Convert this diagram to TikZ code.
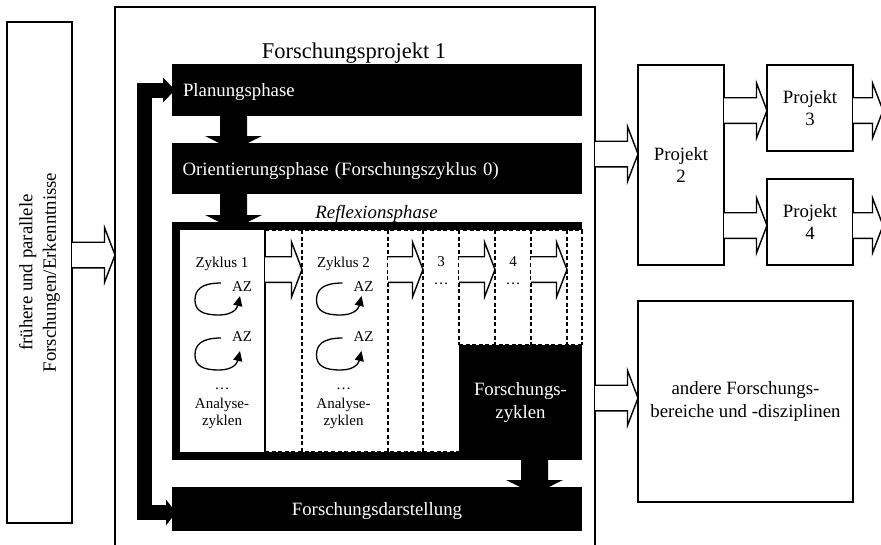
\documentclass[tikz,border=0pt]{standalone}
\usepackage{fontspec}
\setmainfont{Liberation Serif}
\usetikzlibrary{calc,arrows.meta}
\newcommand\bigf{\fontsize{18.8}{22}\selectfont}
\newcommand\leftf{\fontsize{18.8}{23.5}\selectfont}
\newcommand\smallf{\fontsize{15}{17.5}\selectfont}
\newcommand\titlef{\fontsize{22.5}{26}\selectfont}
\tikzset{
  outline/.style={draw, line width=1.5pt, fill=white, inner sep=0pt, outer sep=0pt, align=center, font=\bigf},
  bar/.style={fill=black, text=white, inner sep=0pt, outer sep=0pt, font=\bigf},
  hollow/.style={draw, fill=white, line width=1.4pt, line join=miter},
  dashedline/.style={line width=1.2pt, dash pattern=on 4pt off 2.6pt},
  lbl/.style={font=\smallf, inner sep=0pt, anchor=base, align=center},
  cyc/.style={line width=1.3pt, -{Triangle[length=10pt,width=9pt]}},
}
% hollow block arrow pointing right: #1 start, #2 tip
\newcommand\harr[2]{\draw[hollow] let \p1=#1, \p2=#2 in
  (\x1,\y2+12.8pt) -- (\x2-10.5pt,\y2+12.8pt) -- (\x2-10.5pt,\y2+27.5pt) -- (\x2,\y2)
  -- (\x2-10.5pt,\y2-27.5pt) -- (\x2-10.5pt,\y2-12.8pt) -- (\x1,\y2-12.8pt);}
% solid black arrow pointing down: #1 start, #2 end
\newcommand\varr[2]{\fill let \p1=#1, \p2=#2 in
  (\x1-13.5pt,\y1) -- (\x1-13.5pt,\y2+7pt) -- (\x1-28.5pt,\y2+7pt) -- (\x1,\y2-7pt)
  -- (\x1+28.5pt,\y2+7pt) -- (\x1+13.5pt,\y2+7pt) -- (\x1+13.5pt,\y1) -- cycle;}
% analysis cycle icon
\newcommand\azicon[4]{% #1 x shift, #2 y shift, #3 label y offset, #4 name
  \begin{scope}[shift={(#1,#2)}]
    \draw[cyc] (221,283) .. controls (201,283) and (195,290) .. (195,300)
      .. controls (195,311) and (203,315) .. (219,315)
      .. controls (232,315) and (237,309) .. (240,296);
    \node[lbl] (#4) at (242,291.7+#3) {AZ};
  \end{scope}}
\begin{document}
\begin{tikzpicture}[x=1pt,y=-1pt]
\useasboundingbox (0,0) rectangle (881,544);

% left box
\node[outline, rotate=90, minimum width=501pt, minimum height=65pt, font=\leftf] (lbox) at (39.5,272.5)
  {frühere und parallele\\Forschungen/Erkenntnisse};

% main project box
\node[outline, anchor=north west, minimum width=480pt, minimum height=545pt] (main) at (115,7) {};
\node[font=\titlef, anchor=base, inner sep=0pt] (title) at (354,58) {Forschungsprojekt 1};

% phases
\node[bar, anchor=north west, minimum width=410pt, minimum height=52pt, text width=388pt,
  inner xsep=11pt, align=left, text height=13pt, text depth=0pt] (plan) at (172,64) {Planungsphase};
\node[bar, anchor=north west, minimum width=410pt, minimum height=51pt, text width=389pt,
  inner xsep=10.5pt, align=left, text height=13pt, text depth=0pt] (orient) at (172,143)
  {Orientierungsphase (Forschungszyklus 0)};
\node[font=\bigf\itshape, anchor=base, inner sep=0pt] (rlabel) at (376.5,218) {Reflexionsphase};

% reflexion frame
\node[fill=black, anchor=north west, minimum width=410pt, minimum height=238pt, inner sep=0pt, outer sep=0pt]
  (refl) at (172,222) {};
\fill[white] (180,230) rectangle (582,452);
\draw[line width=1.2pt] (265,230) -- (265,452);
\draw[dashedline] (265,230) -- (582,230);
\draw[dashedline] (265,452) -- (459,452);
\foreach \xx in {302,388,423} \draw[dashedline] (\xx,230) -- (\xx,452);
\foreach \xx in {459,495,531,567,582} \draw[dashedline] (\xx,230) -- (\xx,345);
\draw[dashedline] (459,345) -- (582,345);
\node[bar, anchor=north west, minimum width=123pt, minimum height=115pt, align=center,
  font=\fontsize{18.8}{22.3}\selectfont] (fz) at (459,345) {Forschungs-\\zyklen};

% column contents
\node[lbl] (z1) at (222,267.3) {Zyklus 1};
\azicon{0}{0}{0}{az11}
\azicon{0}{55}{-5}{az12}
\node[lbl] (d1) at (222,389) {…};
\node[lbl, font=\fontsize{15}{17}\selectfont] (an1) at (222,425) {Analyse-\\zyklen};
\node[lbl] (z2) at (343.5,267.3) {Zyklus 2};
\azicon{121.5}{0}{0}{az21}
\azicon{121.5}{55}{-5}{az22}
\node[lbl] (d2) at (343.5,389) {…};
\node[lbl, font=\fontsize{15}{17}\selectfont] (an2) at (343.5,425) {Analyse-\\zyklen};
\node[lbl] (n3) at (441,266.7) {3};
\node[lbl] (d3) at (441,284.3) {…};
\node[lbl] (n4) at (513,266.7) {4};
\node[lbl] (d4) at (513,284.3) {…};

\coordinate (k1) at (265,269.5);
\coordinate (k2) at (302,269.5);
\coordinate (k3) at (388,269.5);
\coordinate (k4) at (423,269.5);
\coordinate (k5) at (459,269.5);
\coordinate (k6) at (495,269.5);
\coordinate (k7) at (531,269.5);
\coordinate (k8) at (567,269.5);
\harr{(k1)}{(k2)}
\harr{(k3)}{(k4)}
\harr{(k5)}{(k6)}
\harr{(k7)}{(k8)}

% Forschungsdarstellung
\node[bar, anchor=north west, minimum width=410pt, minimum height=44pt, text height=13pt, text depth=0pt]
  (fd) at (172,487) {Forschungsdarstellung};

% black flow arrows
\varr{($(plan.south west)+(61.5,0)$)}{($(orient.north west)+(61.5,0)$)}
\varr{($(orient.south west)+(61.5,0)$)}{($(refl.north west)+(61.5,0)$)}
\coordinate (fzs) at ($(fz.south)+(14,0)$);
\varr{(fzs)}{(fzs |- fd.north)}

% feedback arrow
\draw[line width=15pt, line join=miter] ($(plan.west)+(-9,0)$) -- ++(-18.5,0)
  |- ($(fd.west)+(-6,3.5)$);
\fill ($(plan.west)+(-9,-12.5)$) -- ($(plan.west)+(3,0)$) -- ($(plan.west)+(-9,12.5)$) -- cycle;
\fill ($(fd.west)+(-6,-9.5)$) -- ($(fd.west)+(4,3.5)$) -- ($(fd.west)+(-6,16.5)$) -- cycle;

% other projects
\node[outline, minimum width=86pt, minimum height=200pt] (p2) at (681,165) {Projekt\\2};
\node[outline, minimum width=86pt, minimum height=86pt] (p3) at (810,108) {Projekt\\3};
\node[outline, minimum width=86pt, minimum height=86pt] (p4) at (810,222) {Projekt\\4};
\node[outline, minimum width=215pt, minimum height=201pt, font=\fontsize{18.8}{23}\selectfont]
  (other) at (745.5,401.5) {andere Forschungs-\\bereiche und -disziplinen};

% hollow arrows between boxes
\coordinate (a0) at (72,255);
\harr{(a0)}{(main.west |- a0)}
\coordinate (a1) at (595,154);
\harr{(a1)}{(p2.west |- a1)}
\coordinate (a2) at (724,110.5);
\harr{(a2)}{(p3.west |- a2)}
\coordinate (a3) at (724,225.5);
\harr{(a3)}{(p4.west |- a3)}
\coordinate (o3) at (883,110.5);
\harr{(p3.east |- o3)}{(o3)}
\coordinate (o4) at (883,225.5);
\harr{(p4.east |- o4)}{(o4)}
\coordinate (a4) at (595,398);
\harr{(a4)}{(other.west |- a4)}
\end{tikzpicture}
\end{document}
